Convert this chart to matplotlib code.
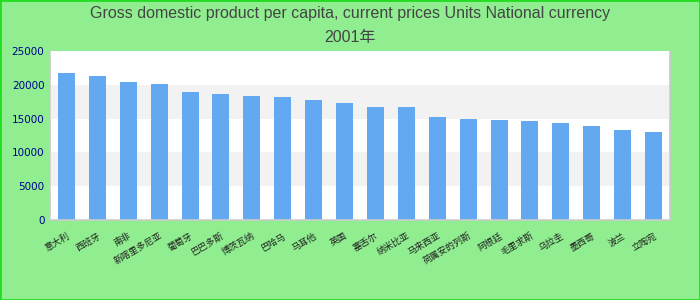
#!/usr/bin/env python3
"""
Bar chart: GDP per capita (national currency), 2001, sorted descending.
Output: out.png (700x300)
"""
import matplotlib
matplotlib.use("Agg")
import matplotlib.pyplot as plt
from matplotlib.patches import Rectangle

TITLE = "Gross domestic product per capita, current prices Units National currency"
SUBTITLE = "2001年"

countries = ["意大利", "西班牙", "南非", "新喀里多尼亚", "葡萄牙",
             "巴巴多斯", "博茨瓦纳", "巴哈马", "马耳他", "英国",
             "塞舌尔", "纳米比亚", "马来西亚", "荷属安的列斯", "阿根廷",
             "毛里求斯", "乌拉圭", "墨西哥", "波兰", "立陶宛"]
values = [21750, 21300, 20410, 20120, 18940,
          18640, 18340, 18200, 17750, 17310,
          16720, 16720, 15240, 14940, 14790,
          14650, 14350, 13900, 13310, 13020]
yticks = [0, 5000, 10000, 15000, 20000, 25000]

BG = "#90ee90"
BAR = "#63a9f2"
TICK = "#00008b"
CJK = ["Noto Sans CJK SC", "DejaVu Sans"]


def main():
    fig = plt.figure(figsize=(7, 3), dpi=100, facecolor=BG)
    fig.patches.append(Rectangle((0, 0), 1, 1, transform=fig.transFigure,
                                 fill=False, edgecolor="#22dd22", linewidth=2))

    fig.text(0.5, 0.955, TITLE, ha="center", va="center", fontsize=11.5,
             color="#444444", family=["Liberation Sans", "Noto Sans CJK SC"])
    fig.text(0.5, 0.875, SUBTITLE, ha="center", va="center", fontsize=11.5,
             color="#444444", family=["Liberation Sans", "Noto Sans CJK SC"])

    ax = fig.add_axes([50 / 700, 80 / 300, 620 / 700, 169 / 300])
    ax.set_facecolor("white")
    # alternating grey bands
    for lo in yticks[1:-1:2]:
        ax.axhspan(lo, lo + 5000, color="#f2f2f2", zorder=0, linewidth=0)

    x = range(len(values))
    ax.bar(x, values, width=0.55, color=BAR, zorder=2)

    ax.set_xlim(-0.53, len(values) - 0.47)
    ax.set_ylim(0, 25000)
    ax.set_yticks(yticks)
    ax.set_yticklabels([str(v) for v in yticks], fontsize=7.5, color=TICK,
                       family="DejaVu Sans")
    ax.set_xticks(list(x))
    ax.set_xticklabels(countries, rotation=30, ha="right", rotation_mode="anchor",
                       fontsize=6.5, color="#222222", family=CJK)
    ax.tick_params(axis="both", length=0, pad=4)
    ax.tick_params(axis="x", pad=8)

    for side in ("left", "bottom", "right"):
        ax.spines[side].set_color("#cccccc")
        ax.spines[side].set_linewidth(1.2)
    ax.spines["top"].set_visible(False)

    fig.savefig("out.png", dpi=100, facecolor=BG)
    plt.close(fig)


if __name__ == "__main__":
    main()
